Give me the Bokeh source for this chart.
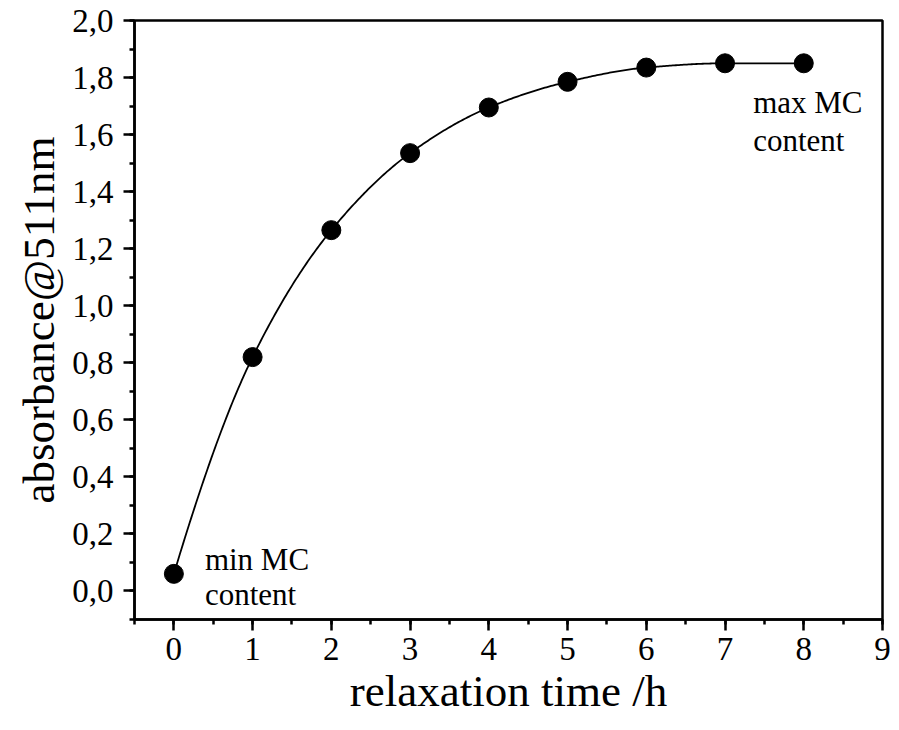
import numpy as np
from bokeh.plotting import figure
from bokeh.models import Range1d, SingleIntervalTicker, CustomJSTickFormatter, Label
from bokeh.embed import file_html
from bokeh.resources import INLINE

# relaxation series: absorbance at 511 nm vs. time
time_h = [0, 1, 2, 3, 4, 5, 6, 7, 8]
absorbance = [0.06, 0.82, 1.265, 1.535, 1.695, 1.785, 1.835, 1.85, 1.85]

x_ticks = [0, 1, 2, 3, 4, 5, 6, 7, 8, 9]
y_ticks = [0.0, 0.2, 0.4, 0.6, 0.8, 1.0, 1.2, 1.4, 1.6, 1.8, 2.0]

FONT = "Liberation Serif"


def pchip(x, y, xs):
    """Monotone cubic Hermite interpolation through the measured points."""
    x = np.asarray(x, float)
    y = np.asarray(y, float)
    h = np.diff(x)
    d = np.diff(y) / h
    n = len(x)
    m = np.zeros(n)
    for k in range(1, n - 1):
        if d[k - 1] * d[k] > 0:
            w1 = 2 * h[k] + h[k - 1]
            w2 = h[k] + 2 * h[k - 1]
            m[k] = (w1 + w2) / (w1 / d[k - 1] + w2 / d[k])
    m[0] = ((2 * h[0] + h[1]) * d[0] - h[0] * d[1]) / (h[0] + h[1])
    if np.sign(m[0]) != np.sign(d[0]):
        m[0] = 0
    m[-1] = 0.0 if d[-1] == 0 else d[-1]
    idx = np.clip(np.searchsorted(x, xs) - 1, 0, n - 2)
    t = (xs - x[idx]) / h[idx]
    h00 = 2 * t**3 - 3 * t**2 + 1
    h10 = t**3 - 2 * t**2 + t
    h01 = -2 * t**3 + 3 * t**2
    h11 = t**3 - t**2
    return h00 * y[idx] + h10 * h[idx] * m[idx] + h01 * y[idx + 1] + h11 * h[idx] * m[idx + 1]


p = figure(width=899, height=730, output_backend="svg", toolbar_location=None,
           x_range=Range1d(-0.5, 9), y_range=Range1d(-0.1, 2.0),
           min_border_left=134, min_border_right=17, min_border_top=20, min_border_bottom=111)
p.xgrid.visible = False
p.ygrid.visible = False
p.outline_line_color = "black"
p.outline_line_width = 2.5
p.background_fill_color = "white"
p.border_fill_color = "white"

xs = np.linspace(time_h[0], time_h[-1], 400)
p.line(xs, pchip(time_h, absorbance, xs), line_color="black", line_width=1.8)
p.scatter(time_h, absorbance, size=19, marker="circle", fill_color="black", line_color="black")

comma = CustomJSTickFormatter(code="return tick.toFixed(1).replace('.', ',');")

xa = p.xaxis[0]
xa.ticker = SingleIntervalTicker(interval=1, num_minor_ticks=2)
xa.axis_label = "relaxation time /h"
ya = p.yaxis[0]
ya.ticker = SingleIntervalTicker(interval=0.2, num_minor_ticks=2)
ya.formatter = comma
ya.axis_label = "absorbance@511nm"

for ax in (xa, ya):
    ax.axis_line_width = 2.5
    ax.major_tick_line_width = 2.5
    ax.minor_tick_line_width = 2.5
    ax.major_tick_in = 0
    ax.major_tick_out = 11
    ax.minor_tick_in = 0
    ax.minor_tick_out = 5
    ax.major_label_text_font = FONT
    ax.major_label_text_font_size = "33px"
    ax.major_label_text_color = "black"
    ax.axis_label_text_font = FONT
    ax.axis_label_text_font_style = "normal"
    ax.axis_label_text_font_size = "45px"
    ax.axis_label_text_color = "black"
xa.major_label_standoff = 7
ya.major_label_standoff = 10
xa.axis_label_standoff = 3
ya.axis_label_standoff = 5

for txt, xv, yv in [("min MC", 0.394, 0.109), ("content", 0.394, -0.014),
                    ("max MC", 7.357, 1.713), ("content", 7.357, 1.580)]:
    p.add_layout(Label(x=xv, y=yv, text=txt, text_font=FONT, text_font_size="31px",
                       text_color="black", text_baseline="alphabetic", text_align="left"))

open("out.html", "w").write(file_html(p, INLINE))
